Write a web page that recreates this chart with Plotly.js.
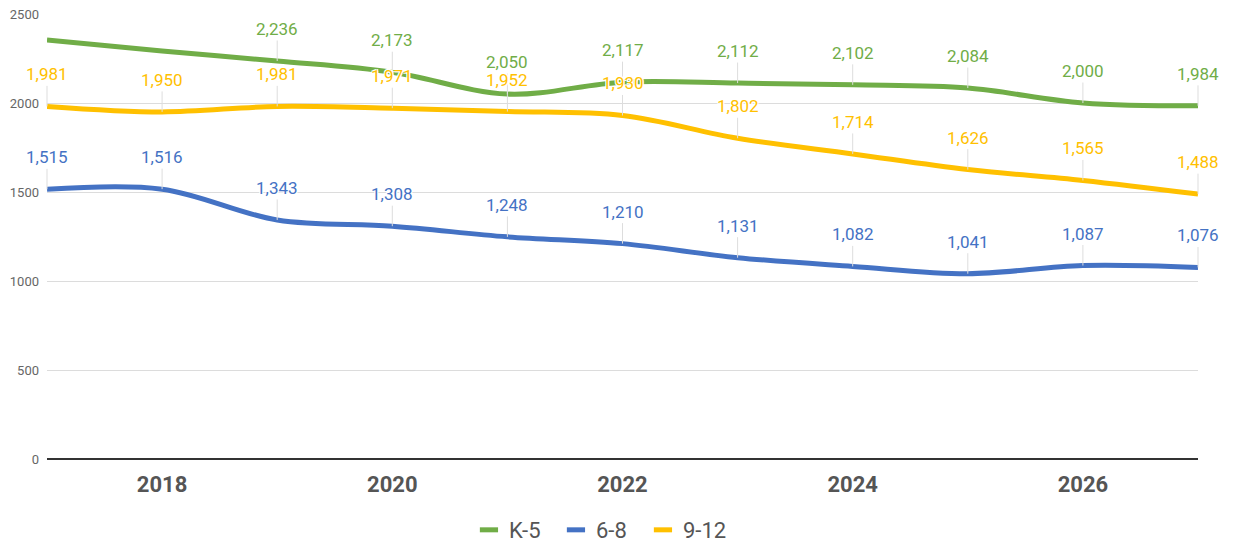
<!DOCTYPE html>
<html>
<head>
<meta charset="utf-8">
<script src="https://cdn.plot.ly/plotly-3.0.1.min.js"></script>
<style>html,body{margin:0;padding:0;background:#fff;}#chart{width:1235px;height:544px;}</style>
</head>
<body>
<div id="chart"></div>
<script>
const years = [2017, 2018, 2019, 2020, 2021, 2022, 2023, 2024, 2025, 2026, 2027];
const seriesNames = ["K-5", "6-8", "9-12"];
const k5 = [2354, 2292, 2236, 2173, 2050, 2117, 2112, 2102, 2084, 2000, 1984];
const g68 = [1515, 1516, 1343, 1308, 1248, 1210, 1131, 1082, 1041, 1087, 1076];
const g912 = [1981, 1950, 1981, 1971, 1952, 1930, 1802, 1714, 1626, 1565, 1488];
// labels shown for each series (K-5 first two are not labelled in the reference)
const k5Labelled = [false, false, true, true, true, true, true, true, true, true, true];
const colors = ["#70ad47", "#4472c4", "#ffc000"];

const allSeries = [k5, g68, g912];
const labelFlags = [k5Labelled, years.map(() => true), years.map(() => true)];

const traces = allSeries.map((vals, i) => ({
  x: years, y: vals, name: seriesNames[i], type: "scatter", mode: "lines",
  line: {color: colors[i], width: 5, shape: "spline", smoothing: 1},
  hoverinfo: "skip", showlegend: false, legendgroup: seriesNames[i]
}));
// legend entries (short thick dash like the reference)
seriesNames.forEach((n, i) => {
  traces.push({
    x: [null], y: [null], name: n, type: "scatter", mode: "markers",
    legendgroup: n,
    marker: {symbol: "line-ew-open", size: 13, color: colors[i], line: {color: colors[i], width: 5}}
  });
});

const fmt = v => v.toLocaleString("en-US");
const halo = "1px 1px 0 #fff, -1px -1px 0 #fff, 1px -1px 0 #fff, -1px 1px 0 #fff";
const annotations = [];
allSeries.forEach((vals, i) => {
  vals.forEach((v, j) => {
    if (!labelFlags[i][j]) return;
    annotations.push({
      x: years[j], y: v, xref: "x", yref: "y",
      text: fmt(v), showarrow: true, arrowhead: 0, arrowwidth: 1,
      arrowcolor: "#dddddd", ax: 0, ay: -32, standoff: 0,
      font: {family: "Roboto, sans-serif", size: 17, color: colors[i], shadow: halo},
      borderpad: 1
    });
  });
});

const layout = {
  width: 1235, height: 544,
  margin: {l: 47, r: 37, t: 14, b: 85, autoexpand: false},
  paper_bgcolor: "#fff", plot_bgcolor: "#fff",
  font: {family: "Roboto, sans-serif", color: "#555"},
  xaxis: {
    range: [2017, 2027], tick0: 2018, dtick: 2, showgrid: false, zeroline: false,
    showline: false, ticks: "", ticklabelstandoff: 10,
    tickfont: {family: "Roboto, sans-serif", size: 22, color: "#555", weight: "bold"}
  },
  yaxis: {
    range: [0, 2500], dtick: 500, showgrid: true, gridcolor: "#dcdcdc", gridwidth: 1,
    zeroline: true, zerolinecolor: "#333", zerolinewidth: 1.5,
    tickformat: "d", ticks: "", ticklabelstandoff: 7,
    tickfont: {family: "Roboto, sans-serif", size: 13, color: "#666"}
  },
  showlegend: true,
  legend: {
    orientation: "h", xref: "paper", x: 0.3666, xanchor: "left",
    yref: "paper", y: -0.1596, yanchor: "middle",
    font: {family: "Roboto, sans-serif", size: 22, color: "#555"},
    itemwidth: 30, itemclick: false, entrywidth: 42
  },
  annotations: annotations
};

Plotly.newPlot("chart", traces, layout, {displayModeBar: false, staticPlot: true});
</script>
</body>
</html>
